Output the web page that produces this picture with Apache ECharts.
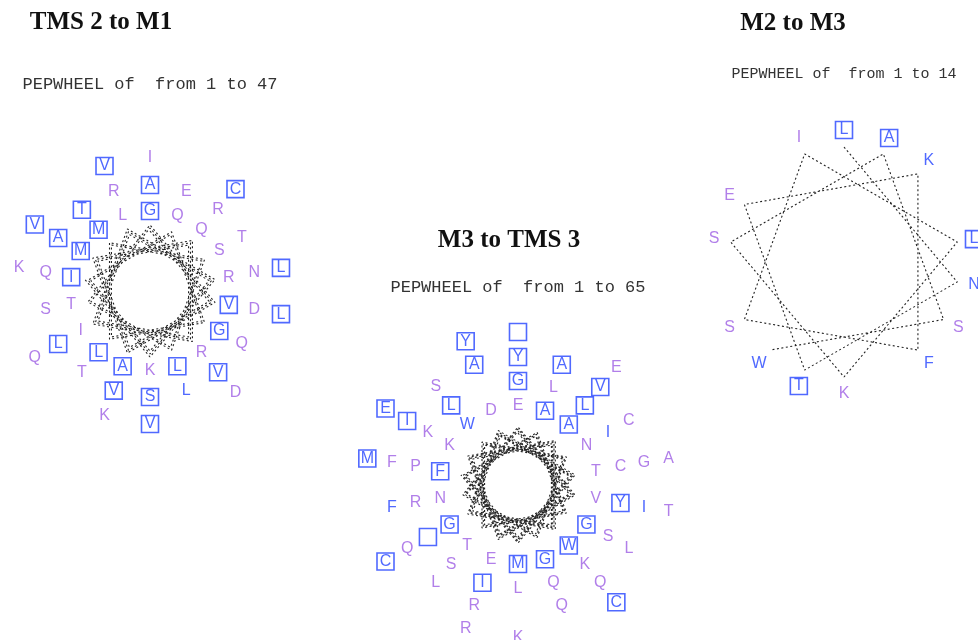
<!DOCTYPE html>
<html>
<head>
<meta charset="utf-8">
<script src="https://cdn.jsdelivr.net/npm/echarts@6/dist/echarts.min.js"></script>
<style>
  html, body { margin: 0; background: #fff; }
  #main { width: 978px; height: 640px; }
</style>
</head>
<body>
<div id="main"></div>
<script>
// wheel titles and the residue range each one shows
const titles = ['TMS 2 to M1', 'M3 to TMS 3', 'M2 to M3'];
const ranges = [[1, 47], [1, 65], [1, 14]];

// residues in sequence order (' ' = glyph not readable in the source)
// kind: b = boxed blue, p = plain purple, u = plain blue
const seq1 = [...'GVAMQRILRKIQGLMSLT' + 'ADVARVLRNSQEQTTTLS' + 'ILKVCDQVLVK'];
const kind1 = [...'bbbbppppppbpbbbpbp' + 'bpbbpbbppbppppbpup' + 'pbpbbppbbbp'];

const seq2 = [...'EVEKAWGDTMFAGTWNGN' + 'GYIKLK  CLPLSSLIQR' + 'YIRIVQQAG FALLSCQF' + ' TREECCYAKM'];
const kind2 = [...'ppppbbbppbbbbpupbp' + 'bbbpbpbpppppppbupp' + 'bupbbppbpppbpppppu' + 'bppbpbbbppb'];

const seq3 = [...'LNTEKFSILKSASW'];
const kind3 = [...'bubpuuppbppbpu'];

// layout of each wheel (pixels)
const wheels = [
  { seq: seq1, kind: kind1, center: [150, 291], ringR: [80, 106, 133], lineR: [60, 63, 66],
    title: [101, 23], sub: [150, 84], subSize: 17 },
  { seq: seq2, kind: kind2, center: [518, 485], ringR: [79, 104, 128, 153], lineR: [52, 54, 56, 58],
    title: [509, 241], sub: [518, 287], subSize: 17 },
  { seq: seq3, kind: kind3, center: [844, 262], ringR: [132], lineR: [115],
    title: [793, 24], sub: [844, 74], subSize: 15 }
];

const BLUE = '#2443ff';
const PURPLE = '#9d5fe3';
const PER_RING = 18;  // 5 turns of 3.6 residues
const STEP = 100;     // degrees per residue

const polar = [], angleAxis = [], radiusAxis = [], series = [], graphic = [];

wheels.forEach((w, n) => {
  polar.push({ center: w.center, radius: 160 });
  angleAxis.push({
    polarIndex: n, type: 'value', min: 0, max: 360, startAngle: 90, clockwise: true,
    axisLine: { show: false }, axisTick: { show: false }, axisLabel: { show: false }, splitLine: { show: false }
  });
  radiusAxis.push({
    polarIndex: n, type: 'value', min: 0, max: 160,
    axisLine: { show: false }, axisTick: { show: false }, axisLabel: { show: false }, splitLine: { show: false }
  });

  const ang = i => (i * STEP) % 360;
  const ring = i => Math.floor(i / PER_RING);

  series.push({
    type: 'line', coordinateSystem: 'polar', polarIndex: n,
    symbol: 'none', silent: true,
    lineStyle: { color: '#222', width: 1.1, type: [2, 2.5] },
    data: w.seq.map((_, i) => [w.lineR[ring(i)], ang(i)])
  });

  const boxed = [], plain = [];
  w.seq.forEach((ch, i) => {
    const item = { value: [w.ringR[ring(i)], ang(i), ch] };
    if (w.kind[i] === 'b') boxed.push(item);
    else { item.label = { color: w.kind[i] === 'u' ? BLUE : PURPLE }; plain.push(item); }
  });

  const label = {
    show: true, position: 'inside', formatter: p => p.value[2],
    fontFamily: 'Liberation Sans', fontSize: 16, color: BLUE
  };
  series.push({
    type: 'scatter', coordinateSystem: 'polar', polarIndex: n, silent: true,
    symbol: 'rect', symbolSize: 17,
    itemStyle: { color: 'rgba(0,0,0,0)', borderColor: BLUE, borderWidth: 1.6 },
    label: label, data: boxed
  });
  series.push({
    type: 'scatter', coordinateSystem: 'polar', polarIndex: n, silent: true,
    symbol: 'rect', symbolSize: 1,
    itemStyle: { color: 'rgba(0,0,0,0)' },
    label: label, data: plain
  });

  graphic.push({
    type: 'text', x: w.title[0], y: w.title[1],
    style: { text: titles[n], align: 'center', verticalAlign: 'middle',
      textAlign: 'center', textVerticalAlign: 'middle',
      font: 'bold 25px "Liberation Serif"', fill: '#111' }
  });
  graphic.push({
    type: 'text', x: w.sub[0], y: w.sub[1],
    style: { text: 'PEPWHEEL of  from ' + ranges[n][0] + ' to ' + ranges[n][1],
      align: 'center', verticalAlign: 'middle', textAlign: 'center', textVerticalAlign: 'middle',
      font: w.subSize + 'px "Liberation Mono"', fill: '#333' }
  });
});

const chart = echarts.init(document.getElementById('main'));
chart.setOption({
  animation: false,
  backgroundColor: '#fff',
  polar, angleAxis, radiusAxis, series, graphic
});
</script>
</body>
</html>
